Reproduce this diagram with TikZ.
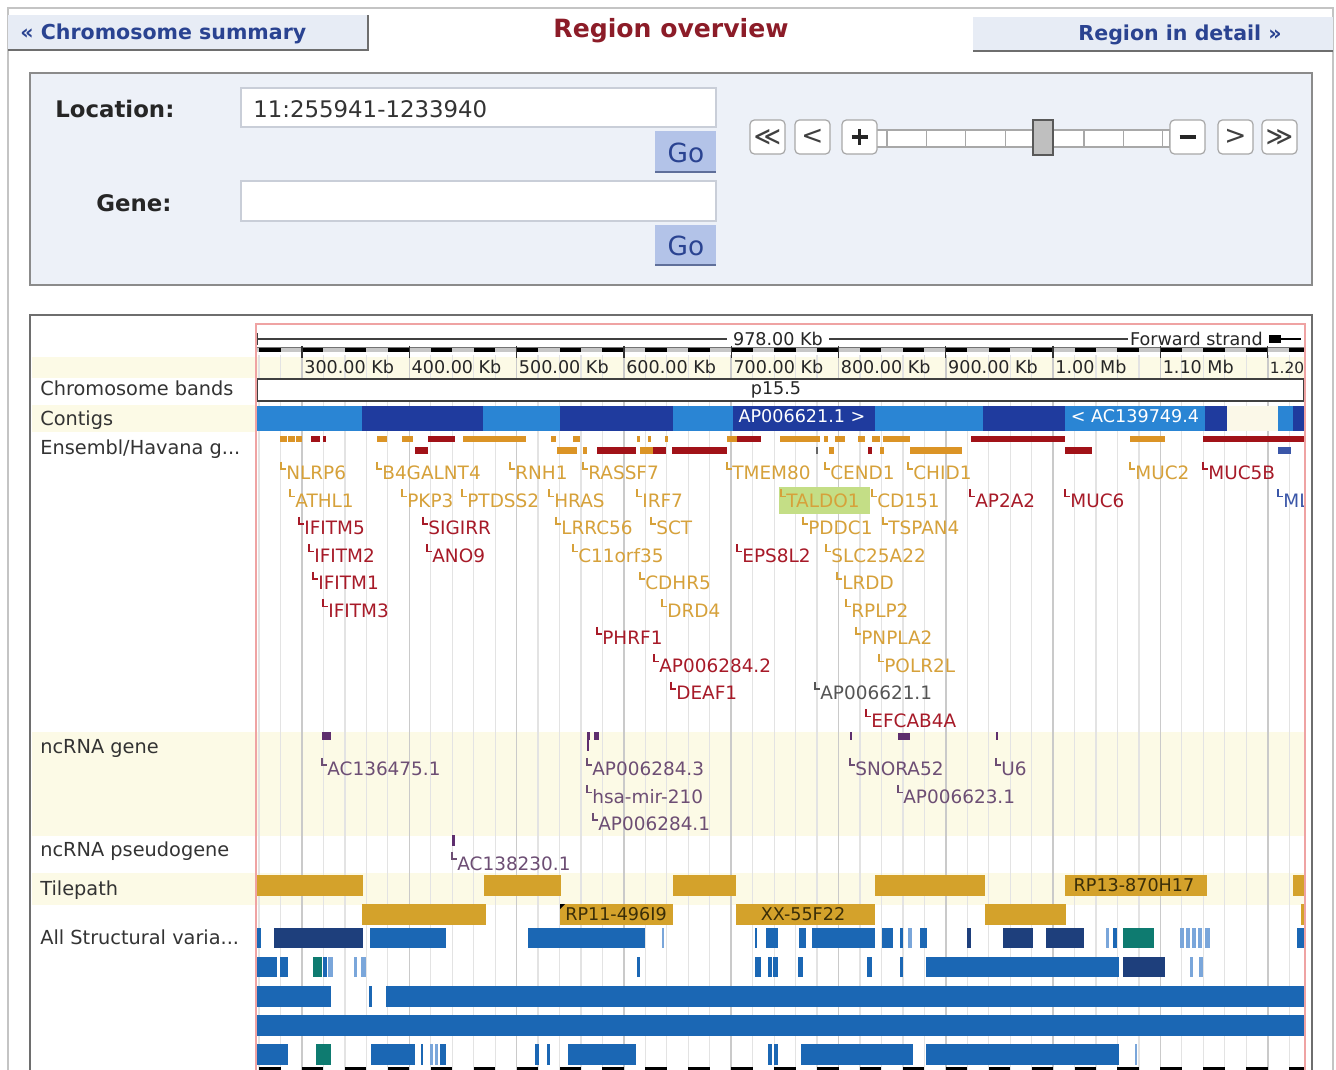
\documentclass[tikz,border=0pt]{standalone}
\usepackage{fontspec}
\setmainfont{DejaVu Sans}
\usetikzlibrary{positioning}
\definecolor{rand}{HTML}{C4C4C4}
\definecolor{randd}{HTML}{6E6E6E}
\definecolor{tabf}{HTML}{E7ECF5}
\definecolor{panf}{HTML}{EDF1F8}
\definecolor{uiblau}{HTML}{2A4391}
\definecolor{titel}{HTML}{8C1C28}
\definecolor{gof}{HTML}{B3C3E8}
\definecolor{gok}{HTML}{5F6F9A}
\definecolor{feldk}{HTML}{C9CED8}
\definecolor{knopfk}{HTML}{A8A8A8}
\definecolor{creme}{HTML}{FCFAE6}
\definecolor{gitter}{HTML}{E3E3E3}
\definecolor{gitterd}{HTML}{CACACA}
\definecolor{rotrand}{HTML}{EFA3A3}
\definecolor{ctgh}{HTML}{2A85D4}
\definecolor{ctgd}{HTML}{1F3B9E}
\definecolor{ctgw}{HTML}{FBF8E8}
\definecolor{gold}{HTML}{D6A13A}
\definecolor{goldb}{HTML}{DB9426}
\definecolor{rot}{HTML}{A71A28}
\definecolor{rotb}{HTML}{A11218}
\definecolor{lila}{HTML}{6D4E74}
\definecolor{lilab}{HTML}{5E2E6E}
\definecolor{grauT}{HTML}{555555}
\definecolor{blauT}{HTML}{3A56A8}
\definecolor{tile}{HTML}{D4A22B}
\definecolor{tiletxt}{HTML}{3A2E08}
\definecolor{svb}{HTML}{1B67B4}
\definecolor{svn}{HTML}{1E3F7C}
\definecolor{svt}{HTML}{0E7B70}
\definecolor{svl}{HTML}{7AA6DA}
\definecolor{hilite}{HTML}{C4DE86}
\tikzset{
  tabtxt/.style={font=\bfseries\fontsize{11.7}{14}\selectfont,text=uiblau,inner sep=0pt},
  formtxt/.style={font=\bfseries\fontsize{13}{15}\selectfont,text=black!85,anchor=base west,inner sep=0pt},
  feld/.style={fill=white,draw=feldk,line width=0.8pt},
  gotxt/.style={font=\fontsize{15}{17}\selectfont,text=uiblau,inner sep=0pt},
  knopf/.style={fill=white,draw=knopfk,line width=0.7pt,rounded corners=2.5pt},
  knopftxt/.style={font=\fontsize{15}{17}\selectfont,text=black!75,inner sep=0pt},
  spurtxt/.style={font=\fontsize{11}{13}\selectfont,text=black!80,anchor=base west,inner sep=0pt},
  skalatxt/.style={font=\fontsize{10}{12}\selectfont,text=black!85,inner sep=0pt},
  gentxt/.style={font=\fontsize{10.5}{12}\selectfont,anchor=base west,inner sep=0pt},
  gitl/.style={gitter,line width=0.7pt},
  gitm/.style={gitterd,line width=0.9pt},
  marke/.style={line width=0.6pt},
}

\begin{document}
\begin{tikzpicture}[x=0.02cm,y=-0.02cm]
  \useasboundingbox (0,0) rectangle (1336,1070);
  \fill[white] (0,0) rectangle (1336,1070);
  \draw[rand,line width=0.8pt] (8,1090) -- (8,8) -- (1333,8) -- (1333,1090);
  % tabs
  \fill[tabf] (8,15) rectangle (368,50);
  \draw[randd,line width=1pt] (8,50) -- (368,50) -- (368,15);
  \node[tabtxt,anchor=base west] (chrsum) at (20,40) {« Chromosome summary};
  \node[font=\bfseries\fontsize{14.3}{16}\selectfont,text=titel,anchor=base,inner sep=0pt] (regov) at (671,38) {Region overview};
  \fill[tabf] (973,17) rectangle (1333,51);
  \draw[randd,line width=1pt] (973,51) -- (1333,51);
  \node[tabtxt,anchor=base east] (regdet) at (1282,41) {Region in detail »};
  % form panel
  \draw[fill=panf,draw=randd!80,line width=1.1pt] (30,73) rectangle (1312,285);
  \node[formtxt] (loc) at (55,118) {Location:};
  \node[formtxt] (gen) at (96,212) {Gene:};
  \draw[feld] (241,88) rectangle (716,127);
  \node[font=\fontsize{13}{15}\selectfont,text=black!80,anchor=base west,inner sep=0pt] (locval) at (253,118) {11:255941-1233940};
  \fill[gof] (655,131) rectangle (716,172);
  \draw[gok,line width=1pt] (655,172) -- (716,172);
  \node[gotxt] (go1) at (686,153) {Go};
  \draw[feld] (241,181) rectangle (716,221);
  \fill[gof] (655,225) rectangle (716,265);
  \draw[gok,line width=1pt] (655,265) -- (716,265);
  \node[gotxt] (go2) at (686,246) {Go};
  % zoom slider
  \draw[fill=white,draw=knopfk,line width=0.7pt] (876,130) rectangle (1170,147);
  \foreach \k in {0,...,7}
    \draw[knopfk,line width=0.7pt] (887+39.4*\k,130) -- ++(0,17);
  \foreach \a/\t [count=\i] in {750/≪,795/<,842/{},1170/{},1218/>,1262/≫} {
    \draw[knopf] (\a,120) rectangle ++(35,34);
    \node[knopftxt] (nav\i) at (\a+17.5,137) {\t};
  }
  \draw[black!85,line width=1.8pt] (nav3.center) ++(-8,0) -- ++(16,0) (nav3.center) ++(0,-8) -- ++(0,16);
  \draw[black!85,line width=1.8pt] (nav4.center) ++(-8,0) -- ++(16,0);
  \draw[fill=black!25,draw=black!65,line width=0.9pt] (1033,120) rectangle (1053,155);
  % image panel
  \draw[fill=white,draw=randd,line width=1.1pt] (30,315) rectangle (1312,1090);
  \fill[creme] (32,357) rectangle (1304,378);
  \fill[creme] (32,405) rectangle (256,432);
  \fill[creme] (32,732) rectangle (1304,836);
  \fill[creme] (32,873) rectangle (1304,905);
  \foreach \k in {-2,...,46} {
    \pgfmathtruncatemacro\m{mod(\k+10,5)}
    \ifnum\m=0 \draw[gitm] (302+21.46*\k,355) -- (302+21.46*\k,1090);
    \else \draw[gitl] (302+21.46*\k,355) -- (302+21.46*\k,1090); \fi
  }
  \node[spurtxt] (t1) at (40,396) {Chromosome bands};
  \node[spurtxt] (t2) at (40,426) {Contigs};
  \node[spurtxt] (t3) at (40,455) {Ensembl/Havana g...};
  \node[spurtxt] (t4) at (40,754) {ncRNA gene};
  \node[spurtxt] (t5) at (40,857) {ncRNA pseudogene};
  \node[spurtxt] (t6) at (40,895) {Tilepath};
  \node[spurtxt] (t7) at (40,945) {All Structural varia...};
  \begin{scope}
    \clip (256,320) rectangle (1305,1090);
    % scale bar
    \draw[black!75,line width=0.6pt] (257,333) -- (257,345);
    \draw[black!75,line width=0.6pt] (257,339) -- (727,339);
    \node[skalatxt] (len) at (778,339) {978.00 Kb};
    \draw[black!75,line width=0.6pt] (829,339) -- (1128,339);
    \node[skalatxt,anchor=east] (strand) at (1263,339) {Forward strand};
    \fill[black] (1269,335) rectangle (1281,343);
    \draw[black,line width=0.8pt] (1281,339) -- (1301,339);
    \fill[black!22] (257,348) rectangle (1304,352.5);
    \draw[black!55,line width=0.6pt] (257,347.5) -- (1304,347.5);
    \foreach \k in {-2,...,23}
      \fill[black] (302+42.92*\k,348) rectangle ++(21.46,4.5);
    \foreach \t [count=\i from 0] in {300.00 Kb,400.00 Kb,500.00 Kb,600.00 Kb,700.00 Kb,800.00 Kb,900.00 Kb,1.00 Mb,1.10 Mb} {
      \draw[black!80,line width=0.7pt] (302+107.3*\i,346) -- ++(0,12);
      \node[skalatxt,anchor=base west] (s\i) at (304+107.3*\i,374) {\t};
    }
    \draw[black!80,line width=0.7pt] (1267.7,346) -- ++(0,12);
    \node[skalatxt,font=\fontsize{8.8}{11}\selectfont,anchor=base west] (s9) at (1269.5,374) {1.20};
    % chromosome band
    \draw[fill=white,draw=black!75,line width=0.9pt] (257,379) rectangle (1304,401);
    \node[skalatxt] (band) at (776,390) {p15.5};
    % contigs
    \foreach \a/\b/\c in {257/362/ctgh,362/483/ctgd,483/560/ctgh,560/673/ctgd,673/733/ctgh,733/875/ctgd,875/983/ctgh,983/1065/ctgd,1065/1205/ctgh,1205/1227/ctgd,1227/1278/ctgw,1278/1293/ctgh,1293/1304/ctgd}
      \fill[\c] (\a,406) rectangle (\b,431);
    \node[skalatxt,text=white] (ctg1) at (802,416) {AP006621.1 >};
    \node[skalatxt,text=white] (ctg2) at (1135,416) {< AC139749.4};
    % genes
    \foreach \a/\b/\c in {280/287/goldb,288/295/goldb,296/302/goldb,311/320/rotb,323/326/rotb,377/387/goldb,402/413/goldb,428/455/rotb,463/526/goldb,551/556/goldb,573/580/goldb,637/640/goldb,648/651/goldb,665/668/goldb,727/737/goldb,737/761/rotb,780/820/goldb,824/828/goldb,835/845/goldb,858/865/goldb,872/880/goldb,883/910/goldb,971/1065/rotb,1130/1165/goldb,1203/1304/rotb}
      \fill[\c] (\a,436) rectangle (\b,442);
    \foreach \a/\b/\c in {415/428/rotb,557/577/goldb,583/587/goldb,597/636/rotb,640/653/goldb,653/666/rotb,672/727/rotb,816/817.5/black!60,829/834/goldb,868/872/rotb,880/884/goldb,910/962/goldb,1065/1092/rotb,1278/1291/blauT}
      \fill[\c] (\a,447) rectangle (\b,454);
    \fill[hilite] (779,487) rectangle (870,514);
    \foreach \x/\r/\c/\t [count=\i] in {
      281/0/gold/NLRP6,377/0/gold/B4GALNT4,510/0/gold/RNH1,583/0/gold/RASSF7,727/0/gold/TMEM80,825/0/gold/CEND1,908/0/gold/CHID1,1130/0/gold/MUC2,1203/0/rot/MUC5B,
      290/1/gold/ATHL1,402/1/gold/PKP3,462/1/gold/PTDSS2,549/1/gold/HRAS,637/1/gold/IRF7,781/1/gold/TALDO1,872/1/gold/CD151,970/1/rot/AP2A2,1065/1/rot/MUC6,1278/1/blauT/ML,
      299/2/rot/IFITM5,423/2/rot/SIGIRR,556/2/gold/LRRC56,651/2/gold/SCT,803/2/gold/PDDC1,883/2/gold/TSPAN4,
      309/3/rot/IFITM2,427/3/rot/ANO9,573/3/gold/C11orf35,737/3/rot/EPS8L2,826/3/gold/SLC25A22,
      313/4/rot/IFITM1,640/4/gold/CDHR5,837/4/gold/LRDD,
      323/5/rot/IFITM3,662/5/gold/DRD4,846/5/gold/RPLP2,
      597/6/rot/PHRF1,856/6/gold/PNPLA2,
      654/7/rot/AP006284.2,879/7/gold/POLR2L,
      671/8/rot/DEAF1,815/8/grauT/AP006621.1,
      866/9/rot/EFCAB4A} {
      \draw[\c,marke] (\x,473+27.5*\r-11) -- (\x,473+27.5*\r-4) -- (\x+5,473+27.5*\r-4);
      \node[gentxt,text=\c] (g\i) at (\x+5,473+27.5*\r+7) {\t};
    }
    % ncRNA
    \fill[lilab] (322,732) rectangle (331,740);
    \fill[lilab] (587,732) rectangle (590,740);
    \fill[lilab] (594,732) rectangle (599,740);
    \draw[lilab,line width=0.6pt] (588,740) -- (588,751);
    \fill[lilab] (850,732) rectangle (852,740);
    \fill[lilab] (898,733) rectangle (910,740);
    \fill[lilab] (996,732) rectangle (998,740);
    \fill[lilab] (452,835) rectangle (455,846);
    \foreach \x/\y/\t [count=\i] in {322/769/AC136475.1,587/769/AP006284.3,587/796.5/hsa-mir-210,593/824/AP006284.1,850/769/SNORA52,996/769/U6,898/796.5/AP006623.1,452/863/AC138230.1} {
      \draw[lila,marke] (\x,\y-11) -- (\x,\y-4) -- (\x+5,\y-4);
      \node[gentxt,text=lila] (n\i) at (\x+5,\y+7) {\t};
    }
    % tilepath
    \foreach \a/\b in {257/363,484/561,673/736,875/985,1065/1207,1293/1304}
      \fill[tile] (\a,875) rectangle (\b,896);
    \foreach \a/\b in {362/486,560/673,736/875,985/1066,1301/1304}
      \fill[tile] (\a,904) rectangle (\b,925);
    \node[skalatxt,text=tiletxt] (tp1) at (1134,885.5) {RP13-870H17};
    \node[skalatxt,text=tiletxt] (tp2) at (616,914.5) {RP11-496I9};
    \node[skalatxt,text=tiletxt] (tp3) at (803,914.5) {XX-55F22};
    \fill[black] (560,904) -- (565,904) -- (560,909) -- cycle;
    % structural variants
    \foreach \a/\b/\c in {257/261/svb,274/363/svn,370/446/svb,528/645/svb,662/664/svl,755/757/svb,766/778/svb,799/806/svb,812/875/svb,882/893/svb,900/903/svb,908/912/svl,920/927/svb,967/971/svn,1003/1033/svn,1046/1084/svn,1106/1109/svl,1113/1117/svb,1123/1154/svt,1180/1184/svl,1186/1190/svl,1192/1196/svl,1198/1202/svl,1205/1210/svl,1297/1304/svb}
      \fill[\c] (\a,928) rectangle (\b,948);
    \foreach \a/\b/\c in {257/277/svb,280/288/svb,313/322/svt,323/327/svb,328/333/svl,354/357/svl,361/366/svl,637/640/svb,755/761/svb,768/772/svb,773/778/svb,798/803/svb,867/872/svb,900/903/svb,926/1119/svb,1123/1165/svn,1190/1193/svl,1199/1203/svl}
      \fill[\c] (\a,957) rectangle (\b,977);
    \foreach \a/\b/\c in {257/331/svb,369/372/svb,386/1304/svb}
      \fill[\c] (\a,986) rectangle (\b,1007);
    \fill[svb] (257,1015) rectangle (1304,1036);
    \foreach \a/\b/\c in {257/288/svb,316/331/svt,371/415/svb,421/423/svb,430/433/svl,435/438/svl,440/446/svb,535/539/svb,547/550/svb,568/636/svb,768/772/svb,774/778/svb,801/913/svb,926/1119/svb,1135/1137/svl}
      \fill[\c] (\a,1044) rectangle (\b,1065);
    \foreach \k in {-2,...,23}
      \fill[black] (302+42.92*\k,1067) rectangle ++(21.46,6);
  \end{scope}
  \draw[rotrand,line width=0.8pt] (256,1090) -- (256,324) -- (1305,324) -- (1305,1090);
\end{tikzpicture}
\end{document}
